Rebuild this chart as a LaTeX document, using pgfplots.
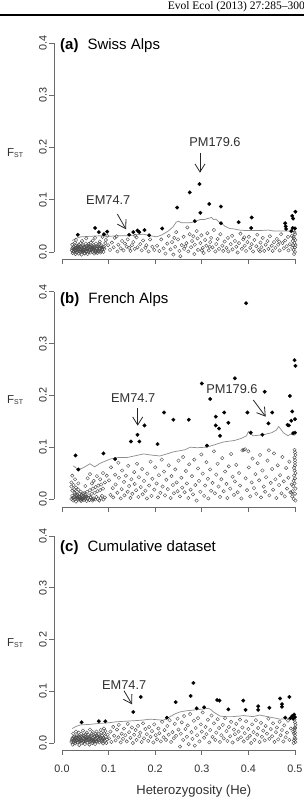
\documentclass[border=0pt]{standalone}
\usepackage{pgfplots}
\pgfplotsset{compat=1.18}
\usepackage{fontspec}
\setmainfont{Liberation Sans}
\newfontfamily\seriffont{Liberation Serif}
\usetikzlibrary{arrows.meta}
\definecolor{axcol}{HTML}{6A6A6A}
\definecolor{txtcol}{HTML}{303030}
\definecolor{opencol}{HTML}{4A4A4A}
\definecolor{linecol}{HTML}{8C8C8C}
\tikzset{
 axl/.style={draw=axcol, line width=0.6pt},
 ytl/.style={rotate=90, text=txtcol, inner sep=0pt, font=\fontsize{10.8}{12}\selectfont},
 xtl/.style={text=txtcol, inner sep=0pt, font=\fontsize{10.8}{12}\selectfont},
 ann/.style={anchor=base, inner sep=0pt, text=txtcol, font=\fontsize{12.8}{14}\selectfont},
 arr/.style={-{Straight Barb[length=8pt,width=10pt]}, line width=0.8pt, draw=black!85},
 ttl/.style={anchor=base west, inner sep=0pt, font=\fontsize{15}{17}\selectfont},
 fst/.style={anchor=base west, inner sep=0pt, text=txtcol, font=\fontsize{11.5}{13}\selectfont},
}
\pgfplotsset{
 panel/.style={hide axis, clip=false, scale only axis, width=279.6pt, xmin=-0.05, xmax=0.55, ymin=-0.05, ymax=0.45, anchor=south west},
 openpts/.style={only marks, mark=o, mark size=1.7pt, mark options={draw=opencol, line width=0.4pt}},
 fillpts/.style={only marks, mark=*, mark size=1.85pt, mark options={fill=black, draw=black, line width=0.2pt}},
 thr/.style={no marks, draw=linecol, line width=0.7pt},
}
\newcommand{\raxes}[1]{%
 \draw[axl] ([xshift=-8pt]axis cs:0,0) -- ([xshift=-8pt]axis cs:0,0.4);
 \draw[axl] ([xshift=-8pt]axis cs:0,0) -- ++(-5pt,0pt);
 \draw[axl] ([xshift=-8pt]axis cs:0,0.1) -- ++(-5pt,0pt);
 \draw[axl] ([xshift=-8pt]axis cs:0,0.2) -- ++(-5pt,0pt);
 \draw[axl] ([xshift=-8pt]axis cs:0,0.3) -- ++(-5pt,0pt);
 \draw[axl] ([xshift=-8pt]axis cs:0,0.4) -- ++(-5pt,0pt);
 \node[ytl] at ([xshift=-19pt]axis cs:0,0) {0.0};
 \node[ytl] at ([xshift=-19pt]axis cs:0,0.1) {0.1};
 \node[ytl] at ([xshift=-19pt]axis cs:0,0.2) {0.2};
 \node[ytl] at ([xshift=-19pt]axis cs:0,0.3) {0.3};
 \node[ytl] at ([xshift=-19pt]axis cs:0,0.4) {0.4};
 \draw[axl] ([yshift=-#1]axis cs:0,0) -- ([yshift=-#1]axis cs:0.5,0);
 \draw[axl] ([yshift=-#1]axis cs:0,0) -- ++(0pt,-5pt);
 \draw[axl] ([yshift=-#1]axis cs:0.1,0) -- ++(0pt,-5pt);
 \draw[axl] ([yshift=-#1]axis cs:0.2,0) -- ++(0pt,-5pt);
 \draw[axl] ([yshift=-#1]axis cs:0.3,0) -- ++(0pt,-5pt);
 \draw[axl] ([yshift=-#1]axis cs:0.4,0) -- ++(0pt,-5pt);
 \draw[axl] ([yshift=-#1]axis cs:0.5,0) -- ++(0pt,-5pt);
}
\begin{document}
\begin{tikzpicture}[x=1pt,y=1pt]
\useasboundingbox (0pt,0pt) rectangle (304pt,799pt);
\clip (0pt,0pt) rectangle (304pt,799pt);
\fill[white] (0pt,0pt) rectangle (304pt,799pt);
% header
\node[anchor=base east, inner sep=0pt, font=\seriffont\fontsize{11.5}{13}\selectfont] at (305pt,789.5pt) {Evol Ecol (2013) 27:285–300};
\draw[line width=1.6pt] (0pt,784pt) -- (304pt,784pt);

% ---------------- (a) Swiss Alps ----------------
\begin{axis}[panel, height=261.25pt, at={(38.7pt,520.875pt)}]
\raxes{7pt}
\addplot[openpts] coordinates {
(0.021,0.003)(0.023,-0.002)(0.024,0.009)(0.026,0.001)(0.027,0.006)(0.029,-0.004)(0.029,0.012)(0.031,0.004)(0.033,0.000)(0.034,0.008)
(0.036,0.014)(0.036,-0.003)(0.038,0.005)(0.039,0.010)(0.041,0.002)(0.042,-0.005)(0.043,0.007)(0.045,0.013)(0.046,0.001)(0.047,0.009)
(0.049,-0.002)(0.050,0.005)(0.052,0.011)(0.053,0.002)(0.055,-0.004)(0.056,0.008)(0.057,0.015)(0.059,0.003)(0.060,0.010)(0.061,-0.001)
(0.063,0.006)(0.064,0.012)(0.066,0.000)(0.067,0.005)(0.069,-0.003)(0.070,0.009)(0.072,0.002)(0.073,0.016)(0.075,0.006)(0.076,-0.002)
(0.078,0.011)(0.079,0.003)(0.081,0.007)(0.083,-0.001)(0.084,0.013)(0.086,0.004)(0.088,0.009)(0.089,0.000)(0.091,0.006)(0.093,0.017)
(0.022,0.014)(0.028,0.018)(0.035,0.011)(0.040,0.017)(0.044,0.004)(0.051,0.016)(0.054,0.006)(0.058,0.012)(0.062,0.018)(0.065,0.008)
(0.068,0.013)(0.071,0.004)(0.074,0.011)(0.077,0.001)(0.080,0.015)(0.025,0.005)(0.032,0.007)(0.048,0.010)(0.037,0.001)(0.085,0.008)
(0.022,0.007)(0.024,0.001)(0.026,0.010)(0.028,0.003)(0.030,0.008)(0.031,-0.001)(0.033,0.011)(0.035,0.004)(0.037,0.008)(0.039,0.000)
(0.040,0.005)(0.042,0.010)(0.044,0.001)(0.046,0.004)(0.048,-0.003)(0.050,0.008)(0.051,0.002)(0.053,0.006)(0.055,0.012)(0.057,0.000)
(0.058,0.005)(0.060,0.003)(0.062,0.009)(0.064,0.004)(0.066,0.011)(0.068,0.003)(0.070,0.006)(0.072,-0.001)(0.074,0.007)(0.076,0.010)
(0.078,0.002)(0.080,0.005)(0.082,0.011)(0.084,0.001)(0.087,0.006)(0.090,0.010)
(0.030,0.023)(0.043,0.021)(0.052,0.026)(0.066,0.022)(0.071,0.027)(0.081,0.020)(0.087,0.029)(0.094,0.023)(0.099,0.013)(0.097,0.031)
(0.103,0.004)(0.107,0.018)(0.111,0.009)(0.113,0.027)(0.119,0.001)(0.121,0.014)(0.126,0.007)(0.129,0.021)(0.132,0.003)(0.135,0.016)
(0.139,0.010)(0.141,0.024)(0.147,0.002)(0.150,0.013)(0.153,0.019)(0.156,0.006)(0.160,0.028)(0.162,0.009)(0.168,0.015)(0.171,0.003)
(0.174,0.022)(0.179,0.008)(0.181,0.013)(0.186,0.001)(0.189,0.024)(0.194,0.010)(0.198,0.004)(0.157,0.031)(0.117,0.030)(0.144,0.008)
(0.204,0.012)(0.209,0.002)(0.213,0.024)(0.218,0.007)(0.222,-0.003)(0.226,0.016)(0.229,0.031)(0.233,0.005)(0.236,0.019)(0.239,-0.005)
(0.243,0.010)(0.245,0.038)(0.249,0.024)(0.252,0.002)(0.254,-0.008)(0.257,0.013)(0.261,0.029)(0.262,0.006)(0.267,0.017)(0.269,0.047)
(0.271,0.001)(0.274,0.034)(0.277,0.009)(0.279,0.021)(0.284,-0.004)(0.285,0.014)(0.289,0.040)(0.291,0.026)(0.292,0.004)(0.297,0.017)
(0.299,0.032)(0.302,0.008)(0.304,-0.002)(0.307,0.023)(0.310,0.012)(0.312,0.036)(0.315,0.003)(0.318,0.019)(0.320,0.027)(0.323,0.009)
(0.326,0.042)(0.329,0.001)(0.331,0.015)(0.334,0.025)(0.337,0.006)(0.340,0.034)(0.344,0.012)(0.346,0.002)(0.349,0.020)(0.300,0.003)
(0.265,0.011)(0.282,0.030)(0.241,0.027)(0.317,0.010)
(0.353,0.008)(0.356,0.027)(0.357,0.001)(0.362,0.015)(0.365,0.031)(0.366,0.005)(0.371,0.021)(0.374,0.010)(0.377,-0.001)(0.380,0.017)
(0.383,0.035)(0.386,0.006)(0.389,0.024)(0.392,0.012)(0.395,0.002)(0.398,0.019)(0.401,0.029)(0.404,0.008)(0.407,0.015)(0.410,0.001)
(0.413,0.023)(0.417,0.011)(0.419,0.033)(0.422,0.004)(0.426,0.018)(0.428,0.009)(0.431,0.027)(0.434,0.002)(0.437,0.014)(0.441,0.021)
(0.443,0.006)(0.446,0.030)(0.450,0.012)(0.452,0.002)(0.455,0.019)(0.458,0.008)(0.461,0.025)(0.464,0.014)(0.467,0.003)(0.470,0.034)
(0.473,0.017)(0.476,0.007)(0.479,0.022)(0.482,0.011)(0.485,0.029)(0.486,0.003)(0.489,0.015)(0.391,0.028)(0.425,0.001)(0.466,0.020)
(0.493,0.031)(0.494,0.008)(0.495,0.021)(0.496,0.013)(0.497,0.004)(0.498,0.026)(0.499,0.017)(0.500,0.000)(0.500,0.009)(0.500,0.034)
(0.501,0.023)(0.499,0.038)(0.498,-0.004)(0.501,0.013)(0.497,0.029)
};
\addplot[thr] coordinates {
(0.022,0.022)(0.030,0.026)(0.040,0.029)(0.060,0.030)(0.080,0.031)(0.100,0.030)(0.120,0.031)(0.140,0.031)(0.160,0.033)(0.175,0.034)
(0.190,0.031)(0.203,0.029)(0.215,0.033)(0.228,0.040)(0.238,0.048)(0.245,0.057)(0.250,0.059)(0.256,0.056)(0.265,0.056)(0.275,0.056)
(0.285,0.058)(0.296,0.062)(0.305,0.062)(0.312,0.064)(0.321,0.066)(0.325,0.062)(0.330,0.063)(0.336,0.058)(0.342,0.055)(0.350,0.049)
(0.360,0.045)(0.370,0.044)(0.380,0.042)(0.395,0.041)(0.410,0.041)(0.425,0.041)(0.443,0.042)(0.455,0.040)(0.470,0.040)(0.485,0.040)
(0.500,0.039)
};
\addplot[fillpts] coordinates {
(0.034,0.033)(0.071,0.046)(0.079,0.038)(0.090,0.034)(0.097,0.039)(0.144,0.033)(0.153,0.038)(0.162,0.041)(0.166,0.038)(0.177,0.042)
(0.187,0.032)(0.215,0.045)(0.247,0.085)(0.274,0.114)(0.295,0.130)(0.285,0.059)(0.297,0.075)(0.316,0.092)(0.341,0.087)(0.341,0.055)
(0.379,0.057)(0.407,0.066)(0.406,0.046)(0.479,0.055)(0.480,0.049)(0.481,0.044)(0.494,0.069)(0.496,0.064)(0.501,0.077)(0.495,0.046)
(0.500,0.045)(0.492,0.040)
};
\end{axis}

% ---------------- (b) French Alps ----------------
\begin{axis}[panel, height=259pt, at={(38.7pt,274.1pt)}]
\raxes{8pt}
\addplot[openpts] coordinates {
(0.020,0.032)(0.025,0.027)(0.030,0.022)(0.035,0.018)(0.040,0.014)(0.045,0.011)(0.050,0.008)
(0.020,0.024)(0.026,0.019)(0.032,0.014)(0.038,0.010)(0.044,0.006)(0.050,0.003)
(0.030,0.002)(0.036,0.005)(0.042,0.008)(0.048,0.011)(0.054,0.014)(0.060,0.017)(0.066,0.020)(0.072,0.023)(0.078,0.026)(0.084,0.028)
(0.040,-0.002)(0.046,0.001)(0.052,0.004)(0.058,0.007)(0.064,0.010)(0.070,0.012)(0.076,0.015)(0.082,0.017)(0.088,0.020)
(0.022,0.016)(0.027,0.012)(0.032,0.008)(0.037,0.004)(0.042,0.001)
(0.020,0.000)(0.022,0.006)(0.024,-0.003)(0.026,0.003)(0.028,0.009)(0.030,-0.005)(0.033,0.004)(0.035,-0.001)(0.038,0.001)(0.041,-0.004)
(0.044,0.003)(0.047,-0.002)(0.050,0.000)(0.053,-0.004)(0.056,0.002)(0.059,-0.002)(0.062,0.003)(0.065,-0.003)(0.068,0.001)(0.071,-0.001)
(0.074,0.004)(0.077,0.000)(0.080,-0.003)(0.083,0.002)(0.086,0.006)(0.089,-0.001)(0.092,0.003)
(0.023,0.002)(0.027,-0.001)(0.031,0.006)(0.034,0.001)(0.039,0.004)(0.043,-0.001)(0.049,0.005)(0.055,0.000)(0.061,0.004)(0.067,-0.001)
(0.022,0.045)(0.028,0.038)(0.035,0.030)(0.055,0.040)(0.060,0.048)(0.068,0.035)(0.075,0.044)(0.082,0.038)(0.088,0.050)(0.092,0.032)
(0.096,0.045)(0.064,0.030)(0.050,0.025)
(0.101,0.036)(0.104,0.008)(0.105,0.061)(0.109,0.021)(0.110,0.003)(0.114,0.047)(0.115,0.028)(0.119,0.012)(0.121,0.070)(0.122,0.041)
(0.126,0.001)(0.128,0.019)(0.129,0.055)(0.133,0.033)(0.134,0.007)(0.137,0.045)(0.141,0.014)(0.142,0.064)(0.144,0.025)(0.147,0.002)
(0.149,0.038)(0.151,0.010)(0.155,0.052)(0.156,0.029)(0.159,0.017)(0.161,0.068)(0.164,0.004)(0.165,0.042)(0.169,0.023)(0.172,0.058)
(0.173,0.009)(0.176,0.035)(0.179,0.016)(0.182,0.001)(0.183,0.049)(0.187,0.026)(0.190,0.072)(0.192,0.006)(0.194,0.039)(0.198,0.018)
(0.200,0.061)(0.203,0.030)(0.206,0.003)(0.208,0.046)(0.211,0.012)(0.214,0.076)(0.216,0.024)(0.219,0.053)(0.221,0.007)(0.224,0.037)
(0.227,0.019)(0.229,0.065)(0.233,0.002)(0.235,0.044)(0.238,0.027)(0.240,0.011)(0.243,0.057)(0.246,0.032)(0.248,0.015)(0.250,0.074)
(0.253,0.005)(0.256,0.041)(0.258,0.022)(0.260,0.081)(0.263,0.013)(0.266,0.054)(0.268,0.030)(0.271,0.002)(0.273,0.067)(0.276,0.018)
(0.279,0.044)(0.281,0.009)(0.284,0.076)(0.286,0.027)(0.289,-0.003)(0.292,0.059)(0.294,0.035)(0.297,0.014)(0.299,0.086)(0.302,0.049)
(0.305,0.006)(0.307,0.026)(0.310,0.071)(0.313,0.039)(0.314,0.001)(0.318,0.057)(0.320,0.016)(0.323,0.031)(0.326,0.092)(0.328,0.011)
(0.331,0.047)(0.334,0.068)(0.336,0.024)(0.339,0.004)(0.342,0.038)(0.344,0.079)(0.347,0.015)(0.350,0.053)(0.353,0.029)(0.355,0.002)
(0.358,0.063)(0.361,0.020)(0.363,0.087)(0.366,0.043)(0.369,0.008)(0.371,0.034)(0.374,0.066)(0.377,0.013)(0.380,0.050)(0.382,0.026)
(0.385,0.001)(0.387,0.094)(0.390,0.095)(0.393,0.096)(0.394,0.040)(0.397,0.017)(0.400,0.092)(0.401,0.061)(0.404,0.005)(0.407,0.032)
(0.409,0.078)(0.412,0.021)(0.415,0.048)(0.417,0.010)(0.420,0.069)(0.423,0.036)(0.425,0.085)(0.427,0.003)(0.430,0.055)(0.433,0.024)
(0.436,0.014)(0.438,0.042)(0.441,0.074)(0.444,0.094)(0.445,0.007)(0.448,0.031)(0.451,0.058)(0.453,0.018)(0.455,0.088)(0.458,0.038)
(0.460,0.002)(0.463,0.065)(0.466,0.027)(0.468,0.046)(0.471,0.011)(0.473,0.081)(0.476,0.034)(0.478,0.005)(0.481,0.060)(0.483,0.020)
(0.486,0.041)(0.488,0.072)(0.490,0.013)
(0.494,0.005)(0.495,0.015)(0.496,0.025)(0.497,0.035)(0.498,0.045)(0.499,0.055)(0.500,0.065)(0.500,0.075)(0.501,0.085)(0.499,0.095)
(0.500,0.010)(0.501,0.020)(0.499,0.030)(0.500,0.040)(0.501,0.050)(0.498,0.060)(0.500,0.070)(0.499,0.080)(0.500,0.090)(0.497,0.000)
(0.501,-0.003)(0.493,0.028)(0.492,0.012)
};
\addplot[thr] coordinates {
(0.024,0.064)(0.035,0.057)(0.045,0.060)(0.060,0.068)(0.070,0.062)(0.082,0.069)(0.103,0.077)(0.120,0.080)(0.139,0.080)(0.160,0.084)
(0.175,0.087)(0.190,0.085)(0.210,0.083)(0.225,0.087)(0.239,0.091)(0.264,0.095)(0.275,0.100)(0.290,0.099)(0.310,0.100)(0.325,0.104)
(0.346,0.110)(0.370,0.113)(0.385,0.117)(0.396,0.122)(0.400,0.130)(0.410,0.122)(0.432,0.124)(0.450,0.128)(0.460,0.133)(0.465,0.140)
(0.475,0.128)(0.485,0.122)(0.490,0.125)(0.500,0.123)
};
\addplot[fillpts] coordinates {
(0.029,0.084)(0.035,0.057)(0.089,0.088)(0.114,0.077)(0.148,0.111)(0.162,0.124)(0.166,0.111)(0.177,0.142)(0.205,0.106)(0.219,0.167)
(0.239,0.153)(0.272,0.153)(0.300,0.223)(0.311,0.103)(0.318,0.193)(0.330,0.159)(0.330,0.142)(0.337,0.136)(0.339,0.122)(0.348,0.167)
(0.357,0.147)(0.371,0.233)(0.395,0.378)(0.398,0.167)(0.405,0.128)(0.430,0.124)(0.435,0.207)(0.443,0.146)(0.451,0.167)(0.489,0.199)
(0.484,0.143)(0.487,0.142)(0.494,0.169)(0.499,0.268)(0.501,0.257)(0.500,0.154)(0.492,0.151)(0.496,0.127)(0.500,0.128)
};
\end{axis}

% ---------------- (c) Cumulative dataset ----------------
\begin{axis}[panel, height=258.75pt, at={(38.7pt,30.125pt)}]
\raxes{7pt}
\node[xtl] at ([yshift=-26pt]axis cs:0,0) {0.0};
\node[xtl] at ([yshift=-26pt]axis cs:0.1,0) {0.1};
\node[xtl] at ([yshift=-26pt]axis cs:0.2,0) {0.2};
\node[xtl] at ([yshift=-26pt]axis cs:0.3,0) {0.3};
\node[xtl] at ([yshift=-26pt]axis cs:0.4,0) {0.4};
\node[xtl] at ([yshift=-26pt]axis cs:0.5,0) {0.5};
\addplot[openpts] coordinates {
(0.020,0.002)(0.022,0.008)(0.023,-0.003)(0.025,0.012)(0.026,0.004)(0.028,-0.001)(0.029,0.010)(0.031,0.006)(0.032,0.015)(0.034,0.001)
(0.035,0.008)(0.037,-0.004)(0.038,0.012)(0.040,0.004)(0.041,0.018)(0.043,0.000)(0.044,0.009)(0.046,0.014)(0.047,0.003)(0.049,-0.002)
(0.050,0.011)(0.052,0.006)(0.053,0.020)(0.055,0.001)(0.056,0.016)(0.058,0.008)(0.059,-0.003)(0.061,0.012)(0.062,0.004)(0.064,0.018)
(0.065,0.000)(0.067,0.010)(0.068,0.006)(0.070,0.014)(0.071,-0.002)(0.073,0.008)(0.074,0.022)(0.076,0.003)(0.077,0.012)(0.079,0.017)
(0.080,0.001)(0.082,0.009)(0.083,0.025)(0.085,0.005)(0.086,0.014)(0.088,-0.001)(0.089,0.010)(0.091,0.019)(0.092,0.004)(0.094,0.012)
(0.095,0.000)(0.097,0.007)(0.098,0.016)(0.024,0.018)(0.030,0.022)(0.036,0.020)(0.045,0.024)(0.051,0.017)(0.060,0.026)(0.066,0.021)
(0.072,0.018)(0.078,0.007)(0.084,0.020)(0.090,0.028)(0.027,0.006)(0.033,0.010)(0.039,0.007)(0.048,0.006)(0.054,0.011)(0.063,0.007)
(0.069,0.003)(0.075,0.010)(0.081,0.013)(0.087,0.008)(0.093,0.023)
(0.021,0.005)(0.023,0.010)(0.025,0.001)(0.027,0.009)(0.029,0.003)(0.031,0.011)(0.033,0.005)(0.035,0.013)(0.037,0.003)(0.039,0.010)
(0.041,0.006)(0.043,0.012)(0.045,0.002)(0.047,0.008)(0.049,0.013)(0.051,0.004)(0.053,0.009)(0.055,0.006)(0.057,0.011)(0.059,0.002)
(0.061,0.008)(0.063,0.014)(0.065,0.005)(0.067,0.002)(0.069,0.012)(0.071,0.007)(0.073,0.003)(0.075,0.015)(0.079,0.005)(0.083,0.011)
(0.087,0.003)(0.091,0.008)
(0.101,0.009)(0.104,0.022)(0.106,0.002)(0.110,0.031)(0.112,0.014)(0.115,0.005)(0.118,0.026)(0.121,0.011)(0.122,0.035)(0.126,0.001)
(0.128,0.018)(0.131,0.008)(0.133,0.028)(0.136,0.015)(0.139,0.003)(0.141,0.037)(0.144,0.021)(0.147,0.010)(0.150,0.030)(0.152,0.000)
(0.155,0.016)(0.158,0.025)(0.160,0.006)(0.163,0.033)(0.166,0.013)(0.168,0.020)(0.171,0.002)(0.174,0.038)(0.176,0.009)(0.179,0.027)
(0.182,0.017)(0.185,0.004)(0.187,0.031)(0.190,0.012)(0.193,0.023)(0.196,0.001)(0.198,0.036)(0.201,0.015)(0.204,0.007)(0.207,0.028)
(0.209,0.019)(0.212,0.003)(0.215,0.041)(0.218,0.011)(0.220,0.025)(0.223,0.006)(0.226,0.033)(0.229,0.016)(0.231,0.044)(0.234,0.002)
(0.237,0.021)(0.240,0.009)(0.242,0.037)(0.245,0.014)(0.248,0.047)(0.250,0.026)
(0.253,-0.007)(0.255,0.018)(0.257,0.040)(0.260,0.006)(0.262,0.052)(0.265,0.027)(0.268,0.012)(0.270,0.034)(0.272,-0.002)(0.275,0.056)
(0.278,0.021)(0.280,0.008)(0.283,0.043)(0.285,-0.005)(0.287,0.029)(0.290,0.015)(0.292,0.048)(0.295,0.003)(0.298,0.036)(0.300,0.022)
(0.302,0.059)(0.305,0.010)(0.308,0.031)(0.310,0.017)(0.313,0.045)(0.316,0.001)(0.318,0.025)(0.321,0.053)(0.323,0.012)(0.326,0.038)
(0.329,0.006)(0.331,0.020)(0.334,0.046)(0.337,0.029)(0.339,0.002)(0.342,0.015)(0.345,0.035)(0.347,0.009)(0.350,0.048)(0.353,0.023)
(0.355,0.004)(0.358,0.031)(0.361,0.013)(0.363,0.041)(0.366,0.001)(0.369,0.026)(0.371,0.017)(0.374,0.037)(0.377,0.007)(0.379,0.022)
(0.382,0.045)(0.384,0.011)(0.387,0.030)(0.390,0.003)(0.392,0.019)(0.395,0.042)(0.398,0.009)(0.400,0.027)(0.403,0.014)(0.406,0.000)
(0.408,0.036)(0.411,0.021)(0.413,0.006)(0.416,0.044)(0.419,0.016)(0.421,0.029)(0.424,0.002)(0.427,0.039)(0.429,0.012)(0.432,0.024)
(0.435,0.005)(0.437,0.033)(0.440,0.018)(0.443,0.047)(0.445,0.008)(0.448,0.027)(0.451,0.013)(0.453,0.038)(0.456,0.002)(0.459,0.021)
(0.461,0.030)(0.464,0.007)(0.467,0.041)(0.469,0.015)(0.472,0.025)(0.475,0.003)(0.477,0.034)(0.480,0.011)(0.483,0.020)(0.485,0.043)
(0.488,0.006)(0.491,0.028)
(0.497,0.000)(0.498,0.005)(0.499,0.010)(0.500,0.015)(0.500,0.020)(0.499,0.025)(0.500,0.030)(0.501,0.035)(0.500,0.040)(0.499,0.045)
(0.501,0.008)(0.498,0.018)(0.500,0.028)(0.501,0.002)(0.496,0.022)
};
\addplot[thr] coordinates {
(0.022,0.028)(0.030,0.032)(0.040,0.035)(0.060,0.036)(0.082,0.038)(0.100,0.039)(0.117,0.041)(0.135,0.042)(0.153,0.043)(0.170,0.044)
(0.189,0.046)(0.205,0.045)(0.217,0.044)(0.225,0.047)(0.232,0.051)(0.242,0.056)(0.253,0.060)(0.265,0.062)(0.275,0.063)(0.285,0.064)
(0.296,0.065)(0.305,0.066)(0.314,0.067)(0.320,0.064)(0.325,0.060)(0.332,0.056)(0.339,0.052)(0.350,0.051)(0.367,0.051)(0.380,0.052)
(0.389,0.053)(0.400,0.052)(0.410,0.051)(0.424,0.054)(0.435,0.052)(0.446,0.050)(0.458,0.048)(0.468,0.046)(0.480,0.047)(0.490,0.047)
(0.500,0.046)
};
\addplot[fillpts] coordinates {
(0.042,0.040)(0.079,0.042)(0.093,0.042)(0.153,0.060)(0.169,0.089)(0.225,0.049)(0.244,0.079)(0.276,0.091)(0.282,0.116)(0.289,0.067)
(0.305,0.069)(0.333,0.083)(0.338,0.082)(0.357,0.065)(0.389,0.082)(0.394,0.064)(0.421,0.071)(0.421,0.064)(0.445,0.068)(0.468,0.086)
(0.472,0.075)(0.472,0.070)(0.488,0.089)(0.479,0.049)(0.490,0.048)(0.494,0.052)(0.498,0.055)(0.500,0.050)(0.496,0.047)
};
\end{axis}

% titles
\node[ttl] at (60pt,749pt) {\textbf{(a)}\hspace{9pt}Swiss Alps};
\node[ttl] at (60pt,495.7pt) {\textbf{(b)}\hspace{9pt}French Alps};
\node[ttl] at (60pt,247.3pt) {\textbf{(c)}\hspace{9pt}Cumulative dataset};
% F_ST labels
\node[fst] at (7pt,642.3pt) {F\raisebox{-1pt}{\fontsize{7}{8}\selectfont ST}};
\node[fst] at (7pt,395.7pt) {F\raisebox{-1pt}{\fontsize{7}{8}\selectfont ST}};
\node[fst] at (7pt,152.3pt) {F\raisebox{-1pt}{\fontsize{7}{8}\selectfont ST}};
% x label
\node[text=txtcol, inner sep=0pt, font=\fontsize{13}{15}\selectfont] at (193.8pt,7.5pt) {Heterozygosity (He)};
% annotations
\node[ann] at (108.3pt,594pt) {EM74.7};
\draw[arr] (117.3pt,585pt) -- (126pt,569.7pt);
\node[ann] at (215pt,652.3pt) {PM179.6};
\draw[arr] (200pt,646.3pt) -- (200pt,626.3pt);
\node[ann] at (133.2pt,396.3pt) {EM74.7};
\draw[arr] (137.7pt,390.7pt) -- (137.7pt,373.3pt);
\node[ann] at (232pt,405pt) {PM179.6};
\draw[arr] (253.3pt,399pt) -- (265.7pt,382.3pt);
\node[ann] at (124.2pt,109pt) {EM74.7};
\draw[arr] (124pt,108.3pt) -- (132pt,94.7pt);
\end{tikzpicture}
\end{document}
